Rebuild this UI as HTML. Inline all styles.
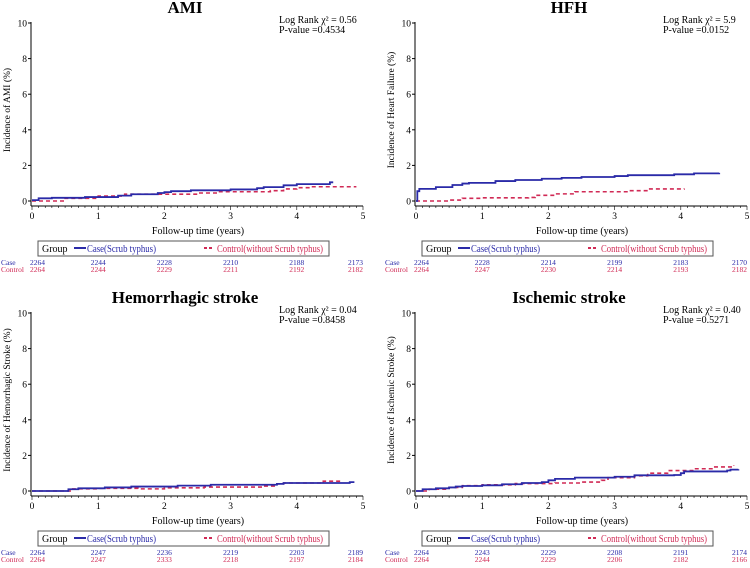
<!DOCTYPE html>
<html><head><meta charset="utf-8"><style>
body{margin:0;background:#fff;width:750px;height:563px;overflow:hidden}
svg{font-family:"Liberation Serif",serif}
</style></head><body>
<svg id="chart" width="750" height="563"></svg>
<script>
const ticksX=[0,1,2,3,4,5];
const ticksY=[0,2,4,6,8,10];
const titles=["AMI","HFH","Hemorrhagic stroke","Ischemic stroke"];
const yLabels=["Incidence of AMI (%)","Incidence of Heart Failure (%)","Incidence of Hemorrhagic Stroke (%)","Incidence of Ischemic Stroke (%)"];
const chiVals=["0.56","5.9","0.04","0.40"];
const pVals=["0.4534","0.0152","0.8458","0.5271"];
const caseRisk=[[2264,2244,2228,2210,2188,2173],[2264,2228,2214,2199,2183,2170],[2264,2247,2236,2219,2203,2189],[2264,2243,2229,2208,2191,2174]];
const ctrlRisk=[[2264,2244,2229,2211,2192,2182],[2264,2247,2230,2214,2193,2182],[2264,2247,2333,2218,2197,2184],[2264,2244,2229,2206,2182,2166]];
const caseT=[[0,0.1,0.3,0.8,1.3,1.5,1.9,2,2.1,2.4,3,3.4,3.5,3.8,4,4.5,4.55],[0,0.02,0.05,0.3,0.55,0.7,0.8,1.2,1.5,1.9,2.2,2.5,3,3.2,3.9,4.2,4.58],[0,0.55,0.7,1.1,1.5,2.2,2.7,3.7,3.8,4.8,4.87],[0,0.1,0.3,0.5,0.6,0.7,1,1.3,1.6,1.9,2,2.1,2.4,3,3.3,3.9,4,4.05,4.7,4.75,4.87]];
const caseV=[[0.05,0.15,0.18,0.22,0.3,0.38,0.45,0.5,0.55,0.6,0.65,0.72,0.78,0.88,0.95,1.05,1.05],[0,0.55,0.68,0.78,0.9,0.98,1.02,1.12,1.18,1.25,1.3,1.35,1.4,1.45,1.5,1.55,1.58],[0,0.1,0.15,0.2,0.25,0.3,0.35,0.4,0.45,0.5,0.5],[0,0.1,0.15,0.2,0.25,0.28,0.32,0.38,0.45,0.5,0.6,0.68,0.75,0.8,0.88,0.9,1.0,1.1,1.15,1.2,1.22]];
const ctrlT=[[0,0.5,1,1.4,2,2.5,2.8,3.6,3.8,4,4.2,4.9],[0,0.5,0.7,1,1.7,1.8,2.1,2.4,3.2,3.5,4.05],[0,0.6,1,1.6,2,2.6,3.5,3.7,3.8,4.4,4.7],[0,0.2,0.5,0.7,1,1.5,2.1,2.5,2.8,2.9,3.3,3.5,3.8,4.2,4.5,4.8]];
const ctrlV=[[0,0.15,0.28,0.38,0.38,0.45,0.52,0.58,0.68,0.75,0.8,0.8],[0,0.05,0.15,0.18,0.2,0.32,0.4,0.52,0.58,0.68,0.7],[0,0.12,0.15,0.12,0.18,0.22,0.28,0.4,0.45,0.55,0.55],[0,0.1,0.2,0.3,0.35,0.42,0.45,0.5,0.6,0.75,0.85,1.0,1.15,1.25,1.35,1.45]];

const NS="http://www.w3.org/2000/svg";
const svg=document.getElementById('chart');
const BLUE="#2a2aa8",RED="#d02a55";
function mk(tag,attrs,parent,text){const e=document.createElementNS(NS,tag);for(const k in attrs)e.setAttribute(k,attrs[k]);if(text!==undefined)e.textContent=text;(parent||svg).appendChild(e);return e;}
const origins=[[32,0],[416,0],[32,290],[416,290]];
for(let p=0;p<4;p++){
  const [ox,oy]=origins[p];
  const g=mk('g',{},svg);
  
  
  const sx=v=>ox+v*66.2;
  const sy=v=>oy+201-v*17.8;
  const t=mk('text',{x:ox+153,y:oy+13,'text-anchor':'middle','font-size':'17','font-weight':'bold'},g,titles[p]);
  
  
  const ya=mk('line',{x1:ox-1,y1:oy+22,x2:ox-1,y2:oy+206,stroke:'#000','stroke-width':1},g);
  
  
  const xa=mk('line',{x1:ox-1,y1:oy+206,x2:sx(5),y2:oy+206,stroke:'#000','stroke-width':1},g);
  
  
  ticksY.forEach(v=>{
    mk('line',{x1:ox-4,y1:sy(v),x2:ox-1,y2:sy(v),stroke:'#000'},g);
    const l=mk('text',{x:ox-5,y:sy(v)+3.5,'text-anchor':'end','font-size':'9.5'},g,String(v));
    
    
  });
  for(let i=0;i<=50;i++){mk('line',{x1:sx(i/10),y1:oy+206,x2:sx(i/10),y2:oy+(i%10==0?210:208),stroke:'#000','stroke-width':0.6},g);}
  ticksX.forEach(v=>{
    const l=mk('text',{x:sx(v),y:oy+219,'text-anchor':'middle','font-size':'9.5'},g,String(v));
    
    
  });
  const xt=mk('text',{x:ox+166,y:oy+234,'text-anchor':'middle','font-size':'10'},g,'Follow-up time (years)');
  
  
  const yt=mk('text',{x:0,y:0,'text-anchor':'middle','font-size':'9.5',transform:`translate(${ox-22},${oy+110}) rotate(-90)`},g,yLabels[p]);
  
  
  const s1=mk('text',{x:ox+247,y:oy+23,'font-size':'10'},g,'Log Rank  χ² = '+chiVals[p]);
  
  
  const s2=mk('text',{x:ox+247,y:oy+33,'font-size':'10'},g,'P-value ='+pVals[p]);
  
  
  function path(T,V){let d=`M${sx(T[0])},${sy(V[0])}`;for(let i=1;i<T.length;i++){d+=`H${sx(T[i])}V${sy(V[i])}`;}return d;}
  const c2=mk('path',{d:path(ctrlT[p],ctrlV[p]),fill:'none',stroke:RED,'stroke-width':1.6,'stroke-dasharray':'4,3'},g);
  
  
  const c1=mk('path',{d:path(caseT[p],caseV[p]),fill:'none',stroke:BLUE,'stroke-width':1.8},g);
  
  
  const lg=mk('g',{},g);
  
  
  mk('rect',{x:ox+6,y:oy+241,width:291,height:15,fill:'#fff',stroke:'#555','stroke-width':1},lg);
  mk('text',{x:ox+10,y:oy+252,'font-size':'10'},lg,'Group');
  mk('line',{x1:ox+42,y1:oy+248,x2:ox+54,y2:oy+248,stroke:BLUE,'stroke-width':2},lg);
  const le1=mk('text',{x:ox+55,y:oy+252,'font-size':'10',fill:BLUE,textLength:69,lengthAdjust:'spacingAndGlyphs'},lg,'Case(Scrub typhus)');
  
  
  mk('line',{x1:ox+172,y1:oy+248,x2:ox+182,y2:oy+248,stroke:RED,'stroke-width':2,'stroke-dasharray':'3,2'},lg);
  const le2=mk('text',{x:ox+185,y:oy+252,'font-size':'10',fill:RED,textLength:106,lengthAdjust:'spacingAndGlyphs'},lg,'Control(without Scrub typhus)');
  
  
  const r1=mk('text',{x:ox-31,y:oy+265,'font-size':'7.5',fill:BLUE},g,'Case');
  
  
  const r2=mk('text',{x:ox-31,y:oy+272,'font-size':'7.5',fill:RED},g,'Control');
  
  
  ticksX.forEach((v,i)=>{
    const anchor=i==0?'start':(i==5?'end':'middle');
    const x=i==0?ox-2:(i==5?sx(5):sx(v));
    const a=mk('text',{x:x,y:oy+265,'text-anchor':anchor,'font-size':'7.5',fill:BLUE},g,String(caseRisk[p][i]));
    
    
    const b=mk('text',{x:x,y:oy+272,'text-anchor':anchor,'font-size':'7.5',fill:RED},g,String(ctrlRisk[p][i]));
    
    
  });
}
</script>
</body></html>
